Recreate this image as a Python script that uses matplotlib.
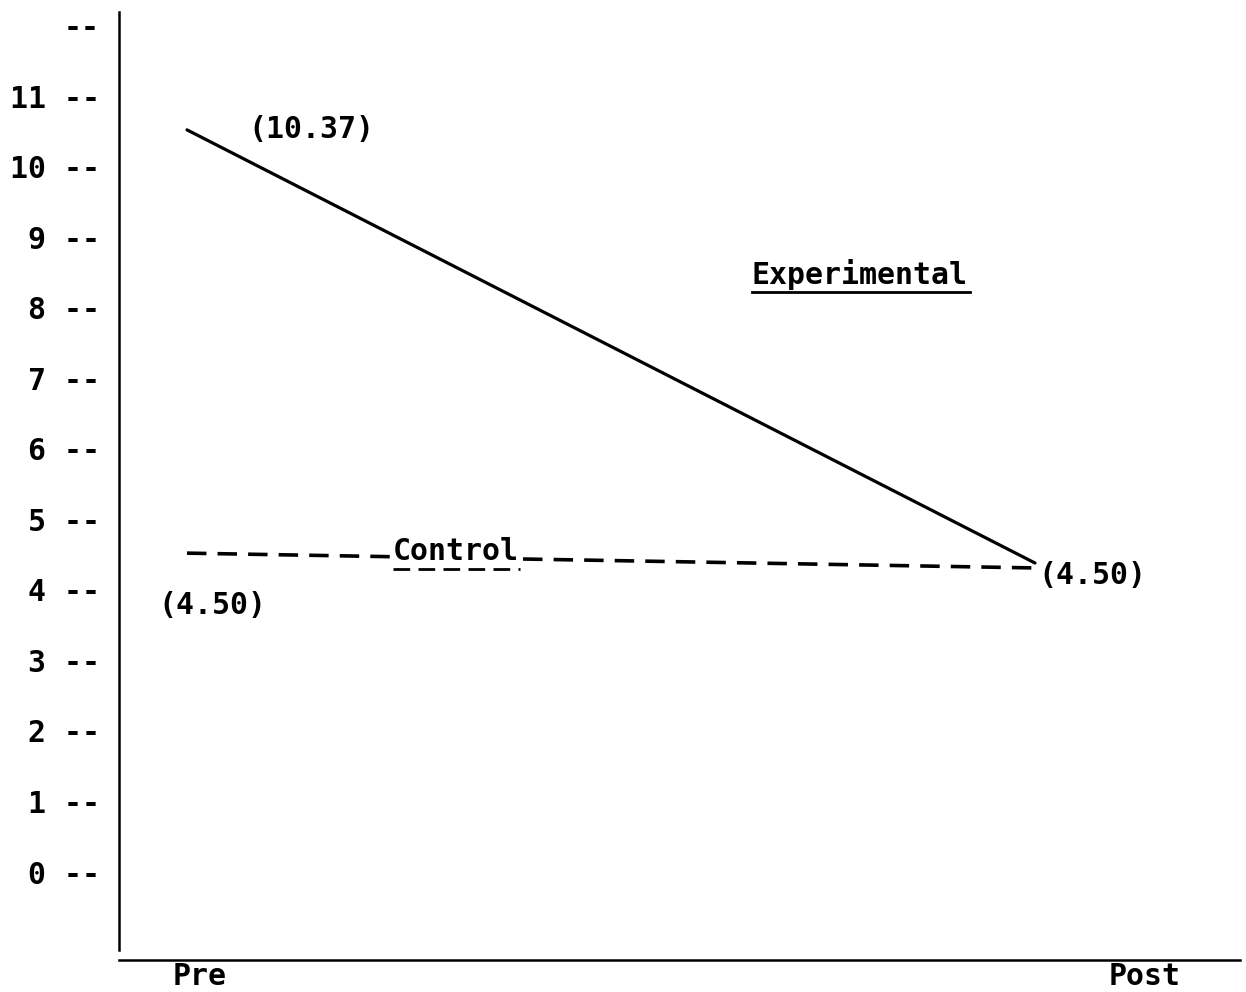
import matplotlib
matplotlib.use("Agg")
import matplotlib.pyplot as plt

# ---- data ----
phases = ["Pre", "Post"]
experimental = [10.52, 4.38]     # drawn positions
control = [4.52, 4.31]
exp_labels = ["(10.37)", "(4.50)"]
ctrl_labels = ["(4.50)", "(4.50)"]
y_ticks = list(range(0, 13))
y_tick_labels = [f"{v} --" for v in range(0, 12)] + ["--"]

W, H = 1246, 992
fig = plt.figure(figsize=(W / 100, H / 100), dpi=100)
plt.rcParams['lines.scale_dashes'] = False

# pixel geometry
ax_left, ax_right, ax_top, ax_bottom = 119, 1240, 12, 960
ax = fig.add_axes([ax_left / W, (H - ax_bottom) / H,
                   (ax_right - ax_left) / W, (ax_bottom - ax_top) / H])

y0_px, upp = 872, (872 - 96) / 11.0
x0_px, xpp = 187, 1035 - 187
ax.set_ylim((y0_px - ax_bottom) / upp, (y0_px - ax_top) / upp)
ax.set_xlim((ax_left - x0_px) / xpp, (ax_right - x0_px) / xpp)

def px2x(p):
    return (p - x0_px) / xpp

def px2y(p):
    return (y0_px - p) / upp

font = dict(family="DejaVu Sans Mono", weight="bold", size=21.5, color="black")

xs = [0, 1]
ax.plot(xs, experimental, color="black", lw=2.3, solid_capstyle="round")
ax.plot(xs, control, color="black", lw=2.6, dashes=(14, 8))

# spines
for s in ["top", "right"]:
    ax.spines[s].set_visible(False)
ax.spines["left"].set_linewidth(1.8)
ax.spines["bottom"].set_linewidth(1.8)
ax.spines["left"].set_bounds(px2y(950), px2y(ax_top))

ax.set_yticks(y_ticks)
ax.set_yticklabels(y_tick_labels, fontdict=font)
ax.tick_params(axis="y", length=0, pad=14)
ax.set_xticks([])

# x labels
ax.text(px2x(200), px2y(962), phases[0], ha="center", va="top", **font)
ax.text(px2x(1145), px2y(962), phases[1], ha="center", va="top", **font)

# value labels
ax.text(px2x(248), px2y(130), exp_labels[0], ha="left", va="center", **font)
ax.text(px2x(1038), px2y(575), exp_labels[1], ha="left", va="center", **font)
ax.text(px2x(158), px2y(605), ctrl_labels[0], ha="left", va="center", **font)

# series labels
ax.text(px2x(752), px2y(275), "Experimental", ha="left", va="center", **font)
ax.plot([px2x(752), px2x(970)], [px2y(292), px2y(292)], color="black", lw=2)
ax.text(px2x(393), px2y(551), "Control", ha="left", va="center",
        bbox=dict(facecolor="white", edgecolor="none", pad=0), **font)
ax.plot([px2x(393), px2x(520)], [px2y(569), px2y(569)], color="black", lw=2,
        dashes=(12, 6))

fig.savefig("out.png", dpi=100)
